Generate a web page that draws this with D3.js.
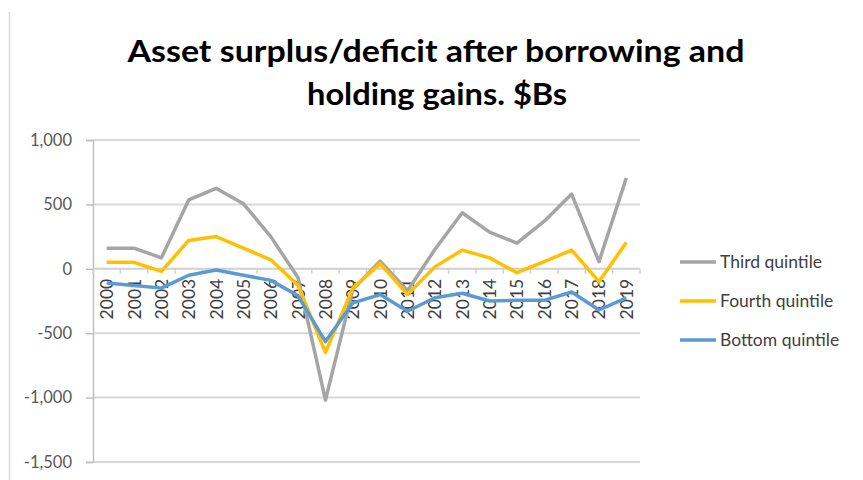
<!DOCTYPE html>
<html>
<head>
<meta charset="utf-8">
<script src="https://cdn.jsdelivr.net/npm/d3@7"></script>
<style>
  html, body { margin: 0; padding: 0; background: #fff; }
  svg { display: block; }
</style>
</head>
<body>
<svg id="chart" width="863" height="480"></svg>
<script>
// Years on the category axis
const years = ["2000","2001","2002","2003","2004","2005","2006","2007","2008","2009",
               "2010","2011","2012","2013","2014","2015","2016","2017","2018","2019"];

// Asset surplus/deficit after borrowing and holding gains, $Bs
const thirdQuintile  = [160, 160, 85, 535, 625, 505, 250, -70, -1020, -160,
                        60, -170, 150, 435, 285, 200, 370, 580, 55, 705];
const fourthQuintile = [50, 50, -20, 220, 250, 160, 70, -130, -650, -150,
                        40, -200, 15, 145, 85, -30, 55, 145, -100, 205];
const bottomQuintile = [-110, -130, -150, -50, -10, -50, -90, -210, -565, -265,
                        -200, -330, -225, -190, -250, -245, -245, -180, -320, -225];

const yTicks = [1000, 500, 0, -500, -1000, -1500];

const seriesNames  = ["Third quintile", "Fourth quintile", "Bottom quintile"];
const seriesColors = ["#a5a5a5", "#ffc000", "#5b9bd5"];
const seriesData   = [thirdQuintile, fourthQuintile, bottomQuintile];

const svg = d3.select("#chart");
const font = "Lato, 'Open Sans', 'DejaVu Sans', sans-serif";

const plot = { left: 93, right: 640, top: 140, bottom: 462 };

const x = d3.scaleBand().domain(years).range([plot.left, plot.right]);
const y = d3.scaleLinear().domain([-1500, 1000]).range([plot.bottom, plot.top]);

// Frame edge on the left side
svg.append("line")
  .attr("x1", 9.5).attr("x2", 9.5).attr("y1", 12).attr("y2", 480)
  .attr("stroke", "#d9d9d9").attr("stroke-width", 1.5);

// Title
const title = svg.append("text")
  .attr("text-anchor", "middle")
  .attr("font-family", font)
  .attr("font-weight", "bold")
  .attr("font-size", 31)
  .attr("fill", "#000");
title.append("tspan").attr("x", 436).attr("y", 62)
  .attr("textLength", 617).attr("lengthAdjust", "spacingAndGlyphs")
  .text("Asset surplus/deficit after borrowing and");
title.append("tspan").attr("x", 437).attr("y", 105)
  .attr("textLength", 260).attr("lengthAdjust", "spacingAndGlyphs")
  .text("holding gains. $Bs");

// Horizontal gridlines
svg.append("g")
  .selectAll("line")
  .data(yTicks.filter(d => d !== 0))
  .join("line")
  .attr("x1", plot.left).attr("x2", plot.right)
  .attr("y1", d => y(d)).attr("y2", d => y(d))
  .attr("stroke", "#d9d9d9").attr("stroke-width", 2);

// Y axis
const fmt = d3.format(",");
const yAxis = d3.axisLeft(y)
  .tickValues(yTicks)
  .tickSize(7)
  .tickPadding(14)
  .tickFormat(d => fmt(d).replace("\u2212", "-"));
const yg = svg.append("g").attr("transform", `translate(${plot.left},0)`).call(yAxis);
yg.select(".domain").attr("stroke", "#bfbfbf").attr("stroke-width", 1.5);
yg.selectAll(".tick line").attr("stroke", "#bfbfbf").attr("stroke-width", 1.5);
yg.selectAll(".tick text")
  .attr("font-family", font).attr("font-size", 16.5).attr("fill", "#595959");

// X axis on the zero line, with ticks between categories
svg.append("line")
  .attr("x1", plot.left).attr("x2", plot.right)
  .attr("y1", y(0)).attr("y2", y(0))
  .attr("stroke", "#d0d0d0").attr("stroke-width", 2);
const boundaries = years.map(d => x(d) + x.bandwidth()).concat([x(years[0])]);
svg.append("g")
  .selectAll("line")
  .data(boundaries)
  .join("line")
  .attr("x1", d => d).attr("x2", d => d)
  .attr("y1", y(0)).attr("y2", y(0) + 5)
  .attr("stroke", "#d0d0d0").attr("stroke-width", 1.5);

// Category labels, rotated
svg.append("g")
  .selectAll("text")
  .data(years)
  .join("text")
  .attr("transform", d => `translate(${x(d) + x.bandwidth() / 2 + 6.5},${y(0) + 10}) rotate(-90)`)
  .attr("text-anchor", "end")
  .attr("font-family", font)
  .attr("font-size", 17.5)
  .attr("fill", "#404040")
  .text(d => d);

// Series lines
const line = d3.line()
  .x((d, i) => x(years[i]) + x.bandwidth() / 2)
  .y(d => y(d));

svg.append("g")
  .selectAll("path")
  .data(seriesData)
  .join("path")
  .attr("d", d => line(d))
  .attr("fill", "none")
  .attr("stroke", (d, i) => seriesColors[i])
  .attr("stroke-width", 3.5)
  .attr("stroke-linejoin", "round");

// Legend
const legendY = [262, 301, 340];
const legend = svg.append("g")
  .selectAll("g")
  .data(seriesNames)
  .join("g")
  .attr("transform", (d, i) => `translate(680,${legendY[i]})`);
legend.append("line")
  .attr("x1", 0).attr("x2", 36).attr("y1", 0).attr("y2", 0)
  .attr("stroke", (d, i) => seriesColors[i])
  .attr("stroke-width", 3.5);
legend.append("text")
  .attr("x", 40).attr("y", 0).attr("dy", "0.35em")
  .attr("font-family", font)
  .attr("font-size", 17.5)
  .attr("fill", "#404040")
  .text(d => d);
</script>
</body>
</html>
